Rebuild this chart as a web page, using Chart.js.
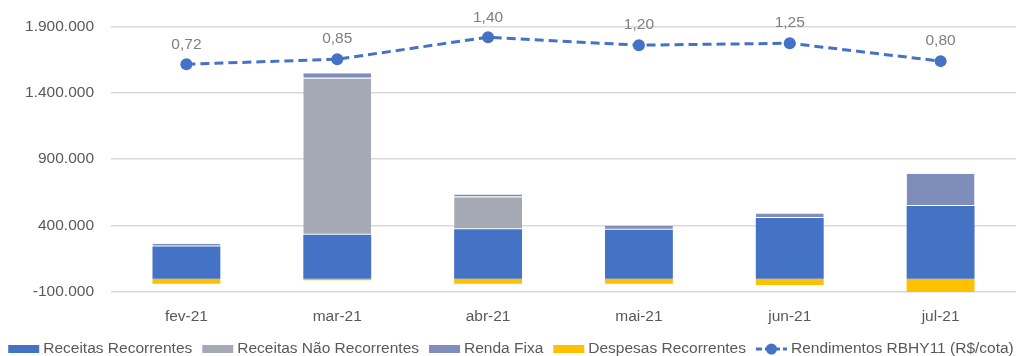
<!DOCTYPE html>
<html>
<head>
<meta charset="utf-8">
<script src="https://cdn.jsdelivr.net/npm/chart.js@4/dist/chart.umd.min.js"></script>
<style>
  html, body { margin: 0; padding: 0; background: #fff; }
  #wrap { width: 1022px; height: 356px; position: relative; }
</style>
</head>
<body>
<div id="wrap"><canvas id="chart"></canvas></div>
<script>
// dados
const months = ['fev-21', 'mar-21', 'abr-21', 'mai-21', 'jun-21', 'jul-21'];
const receitasRecorrentes = [243000, 331000, 372000, 368000, 457000, 547000];
const receitasNaoRecorrentes = [0, 1176000, 242000, 0, 0, 0];
const rendaFixa = [20000, 40000, 19000, 30000, 34000, 243000];
const despesasRecorrentes = [-37000, -12000, -37000, -37000, -47000, -100000];
const rendimentos = [0.72, 0.85, 1.40, 1.20, 1.25, 0.80];
const yTicks = [-100000, 400000, 900000, 1400000, 1900000];

const FONT = "'Liberation Sans', Arial, sans-serif";
const BLUE = '#4472C4';
const GREY_TXT = '#595959';

function fmt(v) {
    const s = Math.abs(v).toFixed(0).replace(/\B(?=(\d{3})+(?!\d))/g, '.');
    return (v < 0 ? '-' : '') + s;
}

// labels over line points
const pointLabels = {
    id: 'pointLabels',
    afterDatasetsDraw(chart) {
        const meta = chart.getDatasetMeta(4);
        const ctx = chart.ctx;
        ctx.save();
        ctx.font = '15.5px ' + FONT;
        ctx.fillStyle = '#7f7f7f';
        ctx.textAlign = 'center';
        ctx.textBaseline = 'middle';
        meta.data.forEach((pt, i) => {
            ctx.fillText(rendimentos[i].toFixed(2).replace('.', ','), pt.x, pt.y - 20);
        });
        ctx.restore();
    }
};

// legend drawn by hand, one row like excel
const excelLegend = {
    id: 'excelLegend',
    afterDraw(chart) {
        const ctx = chart.ctx;
        const sets = chart.data.datasets;
        const iconW = 31, gap = 4, itemGap = 10;
        const y = 349;
        ctx.save();
        ctx.font = '15.5px ' + FONT;
        ctx.textBaseline = 'middle';
        const widths = sets.map(ds => ctx.measureText(ds.label).width);
        let total = 0;
        widths.forEach((w, i) => { total += iconW + gap + w + (i < sets.length - 1 ? itemGap : 0); });
        let x = (chart.width - total) / 2;
        sets.forEach((ds, i) => {
            if (ds.type === 'line') {
                ctx.strokeStyle = ds.borderColor;
                ctx.lineWidth = 3;
                ctx.setLineDash([6, 3]);
                ctx.beginPath(); ctx.moveTo(x, y); ctx.lineTo(x + iconW, y); ctx.stroke();
                ctx.setLineDash([]);
                ctx.fillStyle = ds.borderColor;
                ctx.beginPath(); ctx.arc(x + iconW / 2, y, 5.5, 0, Math.PI * 2); ctx.fill();
            } else {
                ctx.fillStyle = ds.backgroundColor;
                ctx.fillRect(x, y - 4, iconW, 8);
            }
            x += iconW + gap;
            ctx.fillStyle = GREY_TXT;
            ctx.fillText(ds.label, x, y);
            x += widths[i] + itemGap;
        });
        ctx.restore();
    }
};

const barCommon = {
    type: 'bar',
    stack: 's',
    yAxisID: 'y',
    borderColor: '#ffffff',
    borderWidth: 0,
    borderSkipped: false,
    barPercentage: 0.45,
    categoryPercentage: 1
};
// white line between stacked pieces
const sepBorder = { top: 0, bottom: 1, left: 0, right: 0 };

new Chart(document.getElementById('chart'), {
    data: {
        labels: months,
        datasets: [
            Object.assign({}, barCommon, { label: 'Receitas Recorrentes', data: receitasRecorrentes, backgroundColor: BLUE, order: 2 }),
            Object.assign({}, barCommon, { label: 'Receitas Não Recorrentes', data: receitasNaoRecorrentes, backgroundColor: '#A5A9B4', borderWidth: sepBorder, order: 2 }),
            Object.assign({}, barCommon, { label: 'Renda Fixa', data: rendaFixa, backgroundColor: '#7E8DBA', borderWidth: sepBorder, order: 2 }),
            Object.assign({}, barCommon, { label: 'Despesas Recorrentes', data: despesasRecorrentes, backgroundColor: '#FFC000', order: 2 }),
            {
                type: 'line',
                label: 'Rendimentos RBHY11 (R$/cota)',
                data: rendimentos,
                yAxisID: 'y1',
                borderColor: BLUE,
                backgroundColor: BLUE,
                borderWidth: 3,
                borderDash: [9, 5],
                pointRadius: 6,
                pointHoverRadius: 6,
                pointBorderWidth: 0,
                order: 1
            }
        ]
    },
    options: {
        responsive: true,
        maintainAspectRatio: false,
        animation: false,
        layout: { padding: { top: 20, right: 4, left: 0, bottom: 25 } },
        plugins: {
            tooltip: { enabled: false },
            legend: { display: false }
        },
        scales: {
            x: {
                stacked: true,
                grid: { display: false },
                border: { display: false },
                afterFit(scale) { scale.height = 39; },
                ticks: { font: { family: FONT, size: 15.5 }, color: GREY_TXT, padding: 7 }
            },
            y: {
                stacked: true,
                min: -100000,
                max: 1900000,
                afterBuildTicks(scale) { scale.ticks = yTicks.map(v => ({ value: v })); },
                afterFit(scale) { scale.width = 111; },
                grid: { color: '#d9d9d9', lineWidth: 1.5, drawTicks: false },
                border: { display: false },
                ticks: {
                    font: { family: FONT, size: 15.5 },
                    color: GREY_TXT,
                    padding: 17,
                    callback: v => fmt(v)
                }
            },
            y1: {
                display: false,
                min: -5,
                max: 1.675
            }
        }
    },
    plugins: [pointLabels, excelLegend]
});
</script>
</body>
</html>
